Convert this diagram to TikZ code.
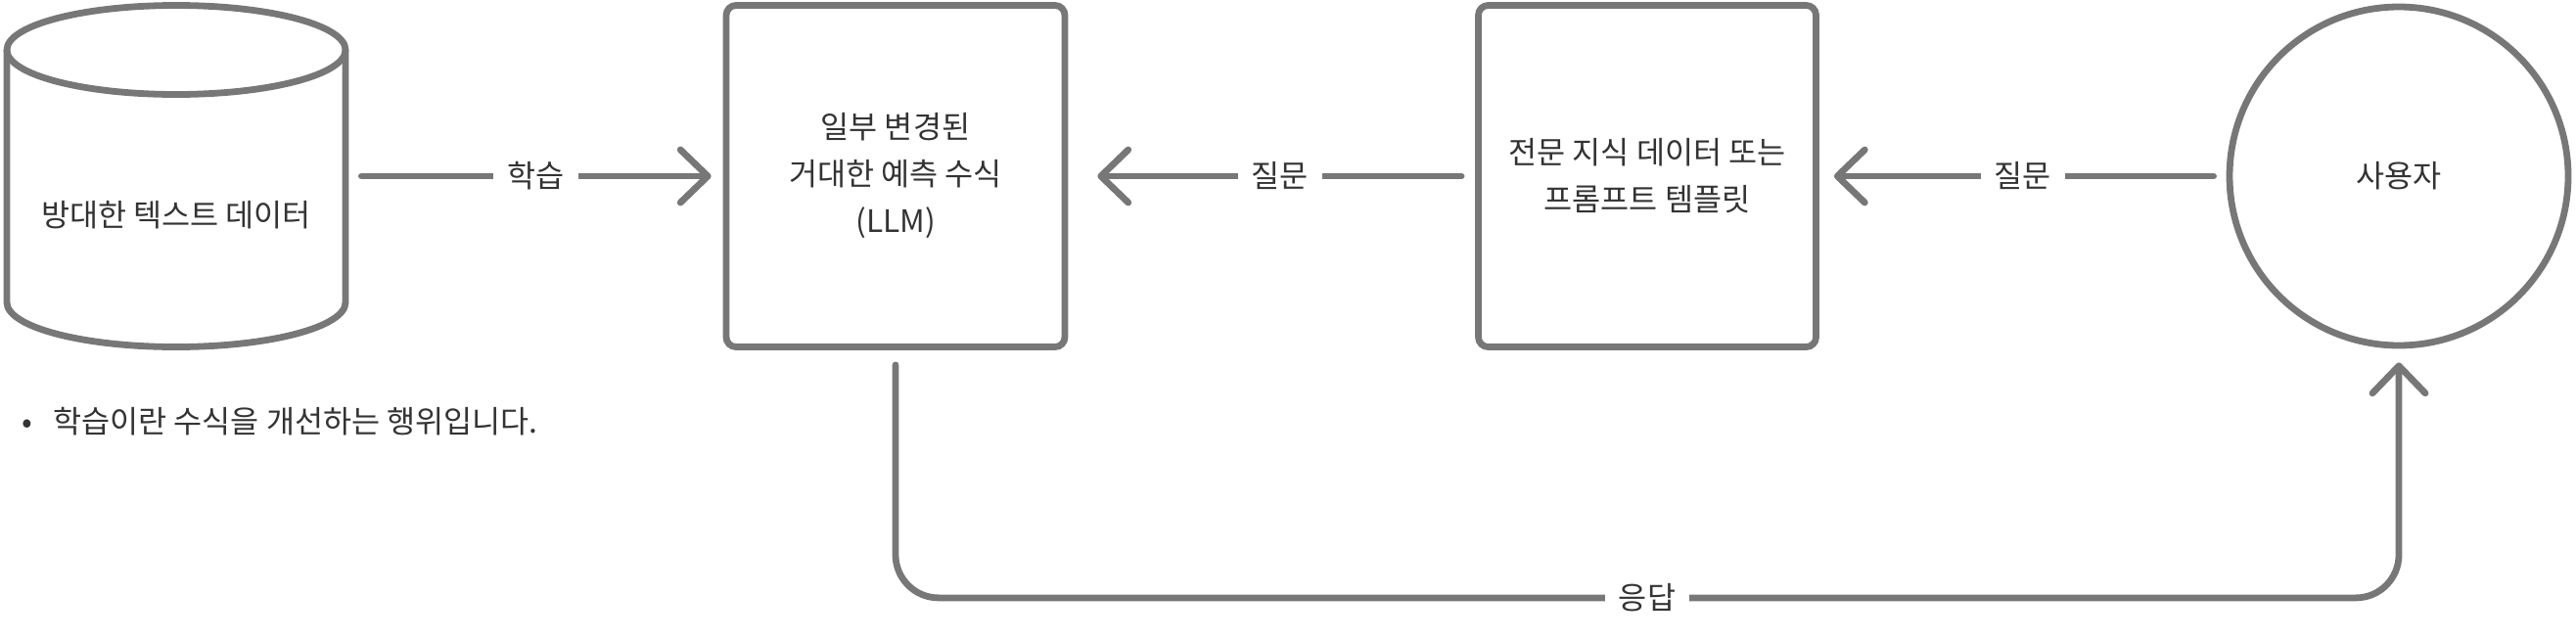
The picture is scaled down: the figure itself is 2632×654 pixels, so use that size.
\documentclass[tikz,border=0pt]{standalone}
\usepackage{fontspec}
\setmainfont{Noto Sans CJK KR}
\usepackage{tikz}
\usetikzlibrary{arrows.meta}
\definecolor{edgegray}{HTML}{777777}
\definecolor{inkgray}{HTML}{333333}

\begin{document}
\begin{tikzpicture}[x=0.5pt, y=-0.5pt,
  line/.style={draw=edgegray, line width=3.4pt},
  txt/.style={text=inkgray, font=\fontsize{15.8}{24}\selectfont},
  box/.style={line, txt, rounded corners=5pt, minimum width=173pt, minimum height=174.5pt, align=center},
  flow/.style={line, line cap=round, -{Straight Barb[length=14pt, width=27pt, round]}},
  lbl/.style={txt, fill=white, sharp corners, inner xsep=7pt}]
\useasboundingbox (0,0) rectangle (2632,654);

% cylinder
\node[minimum width=176pt, minimum height=178pt, inner sep=0pt] (data) at (180,180) {};
\draw[line] (7,51) -- (7,309) arc[start angle=180, end angle=360, x radius=86.5pt, y radius=22.75pt] -- (353,51);
\draw[line] (180,51) ellipse [x radius=86.5pt, y radius=22.75pt];
\node[txt] (datatext) at (180,220) {방대한 텍스트 데이터};

\node[box] (llm) at (915,180) {일부 변경된\\거대한 예측 수식\\(LLM)};
\node[box, minimum width=172.5pt] (prompt) at (1683,180) {전문 지식 데이터 또는\\프롬프트 템플릿};
\node[line, txt, circle, minimum size=173pt] (user) at (2451,180) {사용자};

\draw[flow, shorten <=6.5pt, shorten >=6pt] (data.east) -- node[lbl]{학습} (llm.west);
\draw[flow, shorten <=7pt, shorten >=15pt] (prompt.west) -- node[lbl, pos=0.48]{질문} (llm.east);
\draw[flow, shorten <=6.5pt, shorten >=7.5pt] (user.west) -- node[lbl]{질문} (prompt.east);
\draw[flow, rounded corners=22pt, shorten <=7.5pt, shorten >=7pt] (llm.south) -- ++(0,253) -| node[lbl, pos=0.25]{응답} (user.south);

\node[txt, anchor=west, inner sep=0pt] (note) at (22,431) {\makebox[16pt][l]{•}학습이란 수식을 개선하는 행위입니다.};
\end{tikzpicture}
\end{document}
